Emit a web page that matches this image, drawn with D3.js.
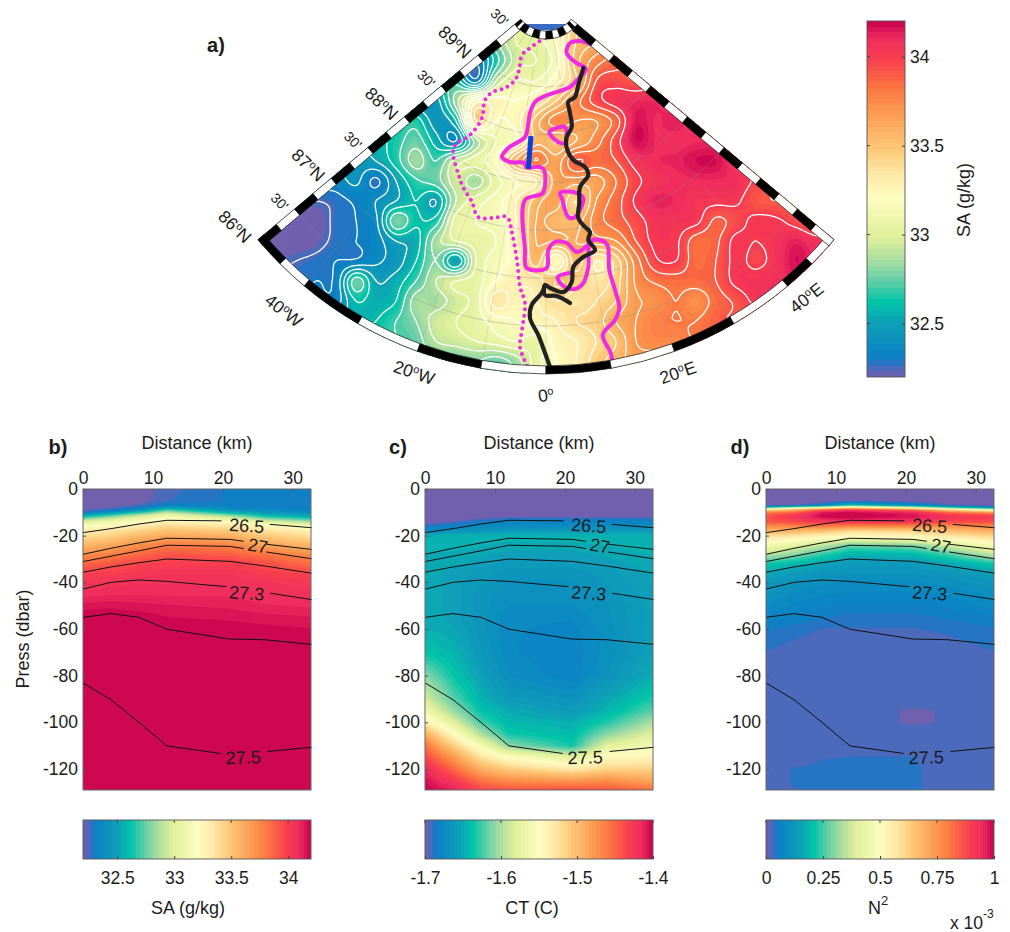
<!DOCTYPE html>
<html>
<head>
<meta charset="utf-8">
<script src="https://d3js.org/d3.v7.min.js"></script>
<style>
  html, body { margin: 0; padding: 0; background: #fff; }
  svg { display: block; }
  text { font-family: "Liberation Sans", Arial, sans-serif; fill: #1c1c1c; }
</style>
</head>
<body>
<div id="chart"></div>
<script>
// Shared colormap, position along the bar -> colour
const cmapStops = [0, 0.02, 0.035, 0.06, 0.15, 0.21, 0.277, 0.336, 0.394, 0.5, 0.57, 0.64, 0.745, 0.82, 0.89, 0.95, 1];
const cmapColors = ["#7060ae", "#5568b8", "#2a72c4", "#0a82c4", "#0fa0b8", "#00c4a8", "#6dd0a8", "#b0e0a0", "#e0f09a",
  "#fcfcc0", "#fee9a8", "#fdc878", "#fb9a50", "#fb7040", "#f9404f", "#ef2c5e", "#c8004f"];

// Map field: SA (g/kg), rows run down the map, columns left to right (plot units, 20 apart)
const mapColumns = d3.range(-290, 291, 20);
const mapRows = d3.range(30, 391, 20);
const mapSA = [
  [32.5,32.5,32.5,32.5,32.5,32.5,32.5,32.5,32.5,32.5,32.5,32.5,32.8,33.0,33.05,33.2,33.5,33.6,33.7,33.7,33.7,33.7,33.7,33.7,33.7,33.7,33.7,33.7,33.7,33.7],
  [32.5,32.5,32.5,32.5,32.5,32.5,32.5,32.5,32.5,32.5,32.5,32.5,32.8,33.0,33.05,33.2,33.5,33.6,33.7,33.7,33.7,33.7,33.7,33.7,33.7,33.7,33.7,33.7,33.7,33.7],
  [32.5,32.5,32.5,32.5,32.5,32.5,32.5,32.5,32.5,32.5,32.35,32.3,32.65,32.95,33.0,33.15,33.55,33.75,33.85,33.85,33.85,33.85,33.85,33.85,33.85,33.85,33.85,33.85,33.85,33.85],
  [32.6,32.6,32.6,32.6,32.6,32.6,32.6,32.6,32.65,32.65,32.65,32.35,32.9,33.1,33.1,33.25,33.5,33.9,33.95,33.9,33.95,33.95,33.95,33.95,33.95,33.95,33.95,33.95,33.95,33.95],
  [32.5,32.5,32.5,32.5,32.5,32.5,32.5,32.5,32.45,32.45,32.85,33.25,33.25,33.2,33.3,33.5,33.75,33.95,34.05,34.1,34.1,34.05,34.05,34.05,34.05,34.05,34.05,34.05,34.05,34.05],
  [32.6,32.6,32.6,32.6,32.6,32.6,32.6,32.6,32.65,32.45,32.6,33.4,33.2,33.25,33.55,33.75,33.7,33.7,33.85,34.15,34.1,34.13,34.05,34.05,34.05,34.05,34.05,34.05,34.05,34.05],
  [32.5,32.5,32.5,32.5,32.5,32.5,32.55,32.65,32.75,32.55,32.4,32.85,33.1,33.2,33.55,33.5,33.6,33.75,33.95,34.17,34.1,34.08,34.1,34.1,34.05,34.05,34.05,34.05,34.05,34.05],
  [32.45,32.45,32.45,32.45,32.45,32.45,32.5,32.65,32.85,32.7,32.95,33.05,33.2,33.6,33.8,33.65,33.9,33.85,33.9,34.05,34.1,34.12,34.17,34.17,34.05,34.0,34.0,34.0,34.0,34.0],
  [32.35,32.35,32.35,32.35,32.35,32.42,32.28,32.5,32.68,32.75,32.95,32.85,33.05,33.2,33.3,33.65,33.65,33.65,33.8,33.97,34.05,34.08,34.1,34.1,34.08,33.98,33.95,33.95,33.95,33.95],
  [32.25,32.25,32.25,32.25,32.27,32.32,32.4,32.5,32.6,32.5,32.9,33.05,33.15,33.3,33.55,33.65,33.4,33.7,33.85,34.02,34.12,34.1,34.04,34.03,34.02,33.92,33.9,33.9,33.9,33.9],
  [32.2,32.2,32.2,32.2,32.27,32.3,32.38,32.78,32.62,32.65,33.05,33.1,33.15,33.3,33.6,33.55,33.55,33.75,33.85,33.95,34.05,34.05,34.03,33.88,33.95,34.03,34.02,33.95,33.85,33.85],
  [32.2,32.2,32.2,32.22,32.27,32.3,32.35,32.5,32.55,32.85,33.0,33.05,33.1,33.3,33.6,33.6,33.6,33.65,33.7,33.9,34.03,34.02,33.85,33.88,34.03,34.0,34.05,34.12,34.05,34.05],
  [32.2,32.23,32.25,32.27,32.3,32.32,32.38,32.45,32.6,32.8,32.5,33.0,33.15,33.25,33.55,33.2,33.55,33.3,33.45,33.75,33.98,34.0,33.85,33.9,34.03,33.97,34.05,34.17,34.1,34.1],
  [32.28,32.28,32.28,32.3,32.33,32.75,32.5,32.55,32.7,32.9,33.0,33.05,33.2,33.3,33.35,33.5,33.45,33.35,33.45,33.72,33.82,33.85,33.85,33.9,34.03,34.05,34.08,34.1,34.1,34.1],
  [32.35,32.35,32.35,32.35,32.35,32.6,32.55,32.6,32.85,32.85,32.95,33.05,33.35,33.25,33.3,33.4,33.35,33.4,33.5,33.68,33.72,33.8,33.72,33.85,33.92,34.03,34.05,34.05,34.05,34.05],
  [32.55,32.55,32.55,32.55,32.55,32.55,32.6,32.7,32.8,32.95,33.0,33.05,33.15,33.2,33.25,33.3,33.4,33.45,33.6,33.7,33.78,33.8,33.8,33.88,33.9,33.9,33.9,33.9,33.9,33.9],
  [32.7,32.7,32.7,32.7,32.7,32.7,32.7,32.7,32.75,32.9,32.95,33.0,33.05,33.1,33.05,33.25,33.3,33.4,33.5,33.7,33.75,33.75,33.8,33.8,33.8,33.8,33.8,33.8,33.8,33.8],
  [32.75,32.75,32.75,32.75,32.75,32.75,32.75,32.75,32.75,32.75,32.75,32.8,32.75,32.85,33.05,33.2,33.3,33.45,33.55,33.65,33.65,33.65,33.65,33.65,33.65,33.65,33.65,33.65,33.65,33.65],
  [32.75,32.75,32.75,32.75,32.75,32.75,32.75,32.75,32.75,32.75,32.75,32.8,32.75,32.85,33.05,33.2,33.3,33.45,33.55,33.65,33.65,33.65,33.65,33.65,33.65,33.65,33.65,33.65,33.65,33.65]
];
const mapContourLevels = [32.25,32.3,32.4,32.5,32.6,32.7,32.8,32.9,33,33.1,33.2,33.3,33.4,33.5,33.6,33.7,33.8,33.9,34];

// Map lines in the same plot units as the field
const dottedLine = [[-1,47],[-6,50],[-16,57],[-24,64],[-27,79],[-31,89],[-41,97],[-53,101],[-61,109],[-64,127],[-76,144],[-91,154],[-93,162],[-88,182],[-83,196],[-74,211],[-68,226],[-53,227],[-39,226],[-34,242],[-29,269],[-26,296],[-21,312],[-24,339],[-26,356],[-18,377]];
const magentaLower = [[66.7,374],[64.7,362],[56.7,344],[69,329],[73.3,317],[69,299],[63.3,279],[61.3,254],[54,249],[44,251],[42.3,276],[37.3,292],[29,298],[17.3,295],[11.7,286],[24,282]];
const magentaUpper = [[44,252],[30.7,261],[20.7,252],[9,251],[2.3,259],[0.7,277],[-19.3,277],[-21,259],[-21,209],[-3.3,202],[-2,179],[-6,176],[-20,176],[-21,172],[-36,171],[-44,166],[-37.7,157],[-21,146],[-17.7,132],[-16,122],[-11,111],[-1,105],[24,96],[30,90],[40,78],[29,71],[20.7,62],[24,52],[34,50],[49,55]];
const magentaLoopA = [[3.3,141],[10.7,137],[19,136],[19,152],[12.3,151]];
const magentaLoopB = [[14,202],[27.3,201],[37.3,207],[29,226],[22.3,226],[15.7,207]];
const trackNorth = [[37.3,77],[32.3,94],[29,106],[22.3,111],[24,122],[25.7,136],[20.7,146],[20.7,157],[27.3,169],[39,176],[42.3,184],[34,196],[33.3,212],[32.3,227],[39,236],[44,241],[42.3,249],[49,259],[37.3,266],[27.3,276],[25.7,291],[17.3,301],[4,297],[-1,294],[-1,304],[10.7,305],[24,312]];
const trackSouth = [[-1,294],[-4.3,302],[-14.3,314],[-16,327],[-7.7,344],[-1,362],[4,376]];
const sectionBar = [[-15,145],[-17.7,178]];
const topBand = [[-24,33],[27,33],[27,39],[-24,39]];

// Map frame and labels
const lonBreaks = [-50,-45,-40,-30,-20,-10,0,10,20,30,40,45,50];
const latBreaks = [86,86.25,86.5,86.75,87,87.25,87.5,87.75,88,88.25,88.5,88.75,89,89.25,89.5];
const lonLabels = [-40,-20,0,20,40];
const latLabels = [86,87,88,89];
const halfLatLabels = [86.5,87.5,88.5,89.5];
const graticuleLons = [-40,-30,-20,-10,0,10,20,30,40];
const graticuleLats = [86.5,87,87.5,88,88.5,89];

// Section stations and pressure levels
const stationsKm = [0,4,8,12,21,26,32.7];
const pressLevels = [0,5,7,8,9,10,11,12,14,16,18,20,24,28,32,36,40,45,50,55,60,70,80,90,95,100,105,110,115,120,125,129];

const sectionSA = [
  [32.2,32.2,32.2,32.25,32.3,32.3,32.3],
  [32.2,32.2,32.21,32.26,32.3,32.3,32.3],
  [32.2,32.21,32.24,32.32,32.31,32.3,32.3],
  [32.21,32.23,32.3,32.48,32.35,32.32,32.31],
  [32.22,32.28,32.42,32.7,32.42,32.36,32.34],
  [32.26,32.42,32.62,32.88,32.55,32.44,32.38],
  [32.45,32.65,32.85,33.05,32.75,32.56,32.46],
  [32.65,32.82,33.0,33.15,32.92,32.68,32.56],
  [33.0,33.1,33.2,33.28,33.2,33.0,32.85],
  [33.2,33.25,33.32,33.42,33.36,33.25,33.15],
  [33.3,33.36,33.44,33.52,33.48,33.38,33.3],
  [33.38,33.44,33.54,33.62,33.58,33.47,33.38],
  [33.55,33.62,33.72,33.8,33.76,33.65,33.55],
  [33.72,33.78,33.86,33.92,33.9,33.82,33.72],
  [33.87,33.92,33.97,34.0,34.0,33.94,33.85],
  [33.98,34.0,34.02,34.04,34.04,34.0,33.96],
  [34.04,34.05,34.07,34.07,34.07,34.05,34.02],
  [34.09,34.1,34.1,34.1,34.1,34.08,34.06],
  [34.15,34.16,34.15,34.14,34.13,34.11,34.1],
  [34.2,34.2,34.19,34.17,34.16,34.15,34.14],
  [34.22,34.22,34.21,34.2,34.19,34.18,34.17],
  [34.25,34.25,34.25,34.25,34.25,34.25,34.25],
  [34.25,34.25,34.25,34.25,34.25,34.25,34.25],
  [34.25,34.25,34.25,34.25,34.25,34.25,34.25],
  [34.25,34.25,34.25,34.25,34.25,34.25,34.25],
  [34.25,34.25,34.25,34.25,34.25,34.25,34.25],
  [34.25,34.25,34.25,34.25,34.25,34.25,34.25],
  [34.25,34.25,34.25,34.25,34.25,34.25,34.25],
  [34.25,34.25,34.25,34.25,34.25,34.25,34.25],
  [34.25,34.25,34.25,34.25,34.25,34.25,34.25],
  [34.25,34.25,34.25,34.25,34.25,34.25,34.25],
  [34.25,34.25,34.25,34.25,34.25,34.25,34.25]
];

const sectionCT = [
  [-1.705,-1.705,-1.705,-1.705,-1.705,-1.705,-1.705],
  [-1.705,-1.705,-1.705,-1.705,-1.705,-1.705,-1.705],
  [-1.705,-1.705,-1.705,-1.705,-1.705,-1.705,-1.705],
  [-1.705,-1.705,-1.705,-1.705,-1.705,-1.705,-1.705],
  [-1.705,-1.705,-1.705,-1.705,-1.705,-1.705,-1.705],
  [-1.705,-1.705,-1.705,-1.705,-1.705,-1.705,-1.705],
  [-1.705,-1.705,-1.705,-1.705,-1.705,-1.705,-1.705],
  [-1.705,-1.705,-1.7,-1.695,-1.695,-1.695,-1.695],
  [-1.70,-1.695,-1.685,-1.68,-1.68,-1.68,-1.68],
  [-1.688,-1.68,-1.675,-1.672,-1.672,-1.672,-1.672],
  [-1.672,-1.665,-1.662,-1.66,-1.66,-1.66,-1.66],
  [-1.65,-1.645,-1.645,-1.645,-1.645,-1.645,-1.645],
  [-1.645,-1.645,-1.648,-1.65,-1.65,-1.648,-1.645],
  [-1.65,-1.65,-1.652,-1.655,-1.655,-1.652,-1.648],
  [-1.65,-1.652,-1.655,-1.66,-1.66,-1.655,-1.65],
  [-1.65,-1.655,-1.66,-1.665,-1.665,-1.66,-1.652],
  [-1.65,-1.655,-1.662,-1.668,-1.668,-1.662,-1.652],
  [-1.65,-1.655,-1.665,-1.67,-1.67,-1.665,-1.655],
  [-1.65,-1.655,-1.665,-1.672,-1.672,-1.668,-1.655],
  [-1.648,-1.655,-1.665,-1.675,-1.676,-1.668,-1.655],
  [-1.648,-1.652,-1.665,-1.676,-1.678,-1.67,-1.655],
  [-1.638,-1.645,-1.662,-1.676,-1.68,-1.67,-1.655],
  [-1.61,-1.635,-1.655,-1.672,-1.68,-1.667,-1.648],
  [-1.585,-1.62,-1.645,-1.66,-1.668,-1.652,-1.632],
  [-1.565,-1.605,-1.638,-1.65,-1.66,-1.645,-1.62],
  [-1.535,-1.58,-1.625,-1.643,-1.648,-1.632,-1.6],
  [-1.49,-1.545,-1.6,-1.635,-1.642,-1.61,-1.58],
  [-1.455,-1.51,-1.56,-1.61,-1.635,-1.58,-1.56],
  [-1.435,-1.475,-1.525,-1.55,-1.58,-1.545,-1.54],
  [-1.415,-1.45,-1.49,-1.51,-1.53,-1.515,-1.515],
  [-1.405,-1.425,-1.455,-1.47,-1.475,-1.47,-1.485],
  [-1.40,-1.41,-1.435,-1.44,-1.44,-1.44,-1.455]
];

// N2 in units of 10^-3
const sectionN2 = [
  [0,0,0,0,0,0,0],
  [0,0,0,0,0,0,0],
  [0,0.01,0.05,0.2,0.08,0.02,0],
  [0.22,0.35,0.45,0.6,0.4,0.25,0.1],
  [0.6,0.7,0.85,0.93,0.82,0.62,0.42],
  [0.78,0.83,0.97,0.99,0.95,0.82,0.72],
  [0.85,0.9,0.99,1,0.98,0.9,0.87],
  [0.87,0.92,0.99,1,0.98,0.93,0.9],
  [0.86,0.88,0.92,0.93,0.92,0.88,0.87],
  [0.76,0.78,0.8,0.78,0.78,0.76,0.78],
  [0.68,0.68,0.66,0.6,0.62,0.66,0.7],
  [0.6,0.58,0.55,0.52,0.54,0.58,0.62],
  [0.47,0.42,0.36,0.28,0.3,0.38,0.48],
  [0.35,0.3,0.24,0.18,0.19,0.25,0.36],
  [0.22,0.19,0.16,0.13,0.13,0.16,0.22],
  [0.16,0.14,0.12,0.11,0.11,0.12,0.15],
  [0.13,0.11,0.1,0.09,0.09,0.1,0.12],
  [0.11,0.09,0.08,0.075,0.075,0.08,0.1],
  [0.09,0.075,0.065,0.06,0.06,0.065,0.085],
  [0.07,0.06,0.05,0.04,0.04,0.05,0.06],
  [0.05,0.04,0.03,0.03,0.03,0.035,0.045],
  [0.031,0.02,0.018,0.018,0.018,0.02,0.031],
  [0.018,0.018,0.018,0.018,0.018,0.018,0.018],
  [0.018,0.018,0.018,0.018,0.018,0.018,0.018],
  [0.018,0.018,0.018,0.018,0.015,0.016,0.018],
  [0.018,0.018,0.018,0.018,0.015,0.016,0.018],
  [0.018,0.018,0.018,0.018,0.018,0.018,0.018],
  [0.018,0.018,0.018,0.018,0.018,0.018,0.018],
  [0.018,0.018,0.03,0.032,0.032,0.018,0.018],
  [0.018,0.033,0.036,0.036,0.036,0.018,0.018],
  [0.018,0.034,0.036,0.036,0.036,0.018,0.018],
  [0.018,0.03,0.036,0.036,0.036,0.018,0.018]
];

// Isopycnals (pressure in dbar at each station), the same in all three sections
const iso265 = [-18.7,-17,-15,-13.4,-13.7,-15,-16.6];
const iso27 = [-28,-25.4,-23.1,-21.1,-21.6,-23.6,-25.9];
const iso271 = [-31.1,-28.8,-26.5,-24.1,-24.6,-26.9,-29.9];
const iso272 = [-35.7,-33.4,-31.6,-30,-31,-33,-36.1];
const iso273 = [-42.9,-40,-39,-39.6,-42,-44.3,-47.4];
const iso274 = [-55,-53.4,-55,-60.1,-64.3,-64.6,-66.6];
const iso275 = [-83.1,-90.3,-100,-110.1,-113.9,-112.6,-110.7];
const isopycnals = [iso265, iso27, iso271, iso272, iso273, iso274, iso275];
const isoGaps = [[19.8,26.7],[23,26.2],[23,26.2],null,[20.5,26.8],null,[19.7,26.4]];
const isoLabels = ["26.5","27","27.3","27.5"];
const isoLabelKm = [23.4,25,23.4,22.9];
const isoLabelPress = [-15.7,-24.3,-44.6,-115];
const isoLabelTilt = [4,10,4,-2];

// Colorbar ticks
const saTicks = [32.5,33,33.5,34];
const ctTicks = [-1.7,-1.6,-1.5,-1.4];
const n2Ticks = [0,0.25,0.5,0.75,1];
const distTicks = [0,10,20,30];
const pressTicks = [0,-20,-40,-60,-80,-100,-120];

const cmap = d3.scaleLinear().domain(cmapStops).range(cmapColors).clamp(true);
const nLevels = 64;
const tickSize = 17.5, titleSize = 18;
// MATLAB style ticks use a plain hyphen
const plainTick = d => String(d);

const svg = d3.select("#chart").append("svg").attr("width", 1010).attr("height", 932);

// Fill a plotting area with stacked contour bands, like contourf
function drawBands(g, values, nx, ny, lo, hi, transform) {
  const levels = d3.range(1, nLevels).map(k => lo + (hi - lo) * k / nLevels);
  const contours = d3.contours().size([nx, ny]).thresholds(levels)(values);
  const path = d3.geoPath(transform);
  g.selectAll("path.band").data(contours).enter().append("path")
    .attr("class", "band")
    .attr("d", path)
    .attr("fill", d => cmap(((d.value - lo) / (hi - lo)) + 0.5 / nLevels));
}

// ---------- a) map ----------
const mapX = d3.scaleLinear().domain([-290, 290]).range([256, 836]);
const mapY = d3.scaleLinear().domain([30, 390]).range([21, 381]);
const apex = [0, 7];   // map point where the meridians meet
const latR = d3.scaleLinear().domain([86, 89.5]).range([376, 41]);
const rad = d => d * Math.PI / 180;
const polar = (lon, r) => [mapX(apex[0] + r * Math.sin(rad(lon))), mapY(apex[1] + r * Math.cos(rad(lon)))];
const cx = mapX(apex[0]), cy = mapY(apex[1]);

const mapGroup = svg.append("g");
const defs = svg.append("defs");
const wedgeArc = d3.arc().innerRadius(latR(89.5)).outerRadius(latR(86))
  .startAngle(Math.PI - rad(50)).endAngle(Math.PI + rad(50));
defs.append("clipPath").attr("id", "wedge").append("path")
  .attr("transform", `translate(${cx},${cy})`).attr("d", wedgeArc());

// Upsample the read-off field with Catmull-Rom so the contours come out round
const colIndex = d3.scaleLinear().domain(d3.extent(mapColumns)).range([0, mapColumns.length - 1]).clamp(true);
const rowIndex = d3.scaleLinear().domain(d3.extent(mapRows)).range([0, mapRows.length - 1]).clamp(true);
function cr(a, b, c, d, t) {
  return 0.5 * (2 * b + (c - a) * t + (2 * a - 5 * b + 4 * c - d) * t * t + (3 * b - a - 3 * c + d) * t * t * t);
}
function mapValue(X, Y) {
  const fx = colIndex(X), fy = rowIndex(Y);
  const i = Math.min(Math.floor(fx), mapColumns.length - 2), j = Math.min(Math.floor(fy), mapRows.length - 2);
  const at = (a, b) => mapSA[Math.max(0, Math.min(mapRows.length - 1, b))][Math.max(0, Math.min(mapColumns.length - 1, a))];
  const rows = [-1, 0, 1, 2].map(dj => cr(at(i - 1, j + dj), at(i, j + dj), at(i + 1, j + dj), at(i + 2, j + dj), fx - i));
  return cr(rows[0], rows[1], rows[2], rows[3], fy - j);
}
const gridPxX = d3.scaleLinear().domain([0, 300]).range([246, 846]);
const gridPxY = d3.scaleLinear().domain([0, 185]).range([15, 385]);
const mapValues = [];
for (let j = 0; j < 185; j++) {
  for (let i = 0; i < 300; i++) {
    mapValues.push(mapValue(mapX.invert(gridPxX(i + 0.5)), mapY.invert(gridPxY(j + 0.5))));
  }
}
const mapTransform = d3.geoTransform({
  point(x, y) { this.stream.point(gridPxX(x), gridPxY(y)); }
});

const topBandLine = d3.line().x(d => mapX(d[0])).y(d => mapY(d[1]));
mapGroup.append("path").attr("d", topBandLine(topBand) + "Z").attr("fill", "#3a6cc4");

const fieldGroup = mapGroup.append("g").attr("clip-path", "url(#wedge)");
fieldGroup.append("rect").attr("x", 246).attr("y", 15).attr("width", 600).attr("height", 370).attr("fill", cmap(0));
drawBands(fieldGroup, mapValues, 300, 185, 32.2, 34.2, mapTransform);

// Faint graticule
const gratGroup = fieldGroup.append("g").attr("fill", "none").attr("stroke", "#8a8a8a").attr("stroke-width", 0.5).attr("opacity", 0.45);
graticuleLons.forEach(lon => {
  const a = polar(lon, latR(89.5)), b = polar(lon, latR(86));
  gratGroup.append("line").attr("x1", a[0]).attr("y1", a[1]).attr("x2", b[0]).attr("y2", b[1]);
});
graticuleLats.forEach(lat => {
  gratGroup.append("path").attr("transform", `translate(${cx},${cy})`)
    .attr("d", d3.arc().innerRadius(latR(lat)).outerRadius(latR(lat)).startAngle(Math.PI - rad(50)).endAngle(Math.PI + rad(50))());
});

// White SA contours
const whiteContours = d3.contours().size([300, 185]).thresholds(mapContourLevels)(mapValues);
fieldGroup.selectAll("path.white").data(whiteContours).enter().append("path")
  .attr("class", "white")
  .attr("d", d3.geoPath(mapTransform))
  .attr("fill", "none").attr("stroke", "#fff").attr("stroke-width", 1.3);

// Magenta SA lines, ship track and section bar
const smooth = d3.line().x(d => mapX(d[0])).y(d => mapY(d[1])).curve(d3.curveCatmullRom);
const smoothClosed = d3.line().x(d => mapX(d[0])).y(d => mapY(d[1])).curve(d3.curveCatmullRomClosed);
const lineGroup = mapGroup.append("g").attr("clip-path", "url(#wedge)").attr("fill", "none").attr("stroke-linejoin", "round").attr("stroke-linecap", "round");
lineGroup.append("path").attr("d", smooth(dottedLine))
  .attr("stroke", "#ee2be0").attr("stroke-width", 4).attr("stroke-dasharray", "0 6.5");
[magentaLower, magentaUpper].forEach(l => {
  lineGroup.append("path").attr("d", smooth(l)).attr("stroke", "#ee2be0").attr("stroke-width", 4);
});
[magentaLoopA, magentaLoopB].forEach(l => {
  lineGroup.append("path").attr("d", smoothClosed(l)).attr("stroke", "#ee2be0").attr("stroke-width", 4);
});
[trackNorth, trackSouth].forEach(l => {
  lineGroup.append("path").attr("d", smooth(l)).attr("stroke", "#222").attr("stroke-width", 4.2);
});
lineGroup.append("path").attr("d", smooth(sectionBar)).attr("stroke", "#0b3fdc").attr("stroke-width", 5).attr("stroke-linecap", "butt");

// Fancy black and white frame
const frame = mapGroup.append("g").attr("stroke", "#111").attr("stroke-width", 0.7);
const bandWidth = 8;
function arcBand(rOuter, rInner) {
  d3.pairs(lonBreaks).forEach((p, i) => {
    frame.append("path").attr("transform", `translate(${cx},${cy})`)
      .attr("fill", i % 2 === 0 ? "#000" : "#fff")
      .attr("d", d3.arc().innerRadius(rInner).outerRadius(rOuter)
        .startAngle(Math.PI - rad(p[0])).endAngle(Math.PI - rad(p[1]))());
  });
}
arcBand(latR(86), latR(86) - bandWidth);
arcBand(latR(89.5), latR(89.5) - bandWidth);
[-50, 50].forEach(edge => {
  const side = edge < 0 ? -1 : 1;
  const nx = -side * Math.cos(rad(50)) * bandWidth, ny = Math.sin(rad(50)) * bandWidth;
  d3.pairs(latBreaks).forEach((p, i) => {
    const a = polar(edge, latR(p[0])), b = polar(edge, latR(p[1]));
    // west edge starts black at 86N, east edge starts white
    const isBlack = edge < 0 ? i % 2 === 0 : i % 2 === 1;
    frame.append("path").attr("fill", isBlack ? "#000" : "#fff")
      .attr("d", `M${a}L${b}L${b[0] + nx},${b[1] + ny}L${a[0] + nx},${a[1] + ny}Z`);
  });
});

// Degree labels with the raised small o
function degLabel(x, y, rot, size, num, suffix) {
  const t = svg.append("text").attr("transform", `translate(${x},${y}) rotate(${rot})`)
    .attr("text-anchor", "middle").attr("dy", "0.35em").attr("font-size", size);
  t.append("tspan").text(num);
  t.append("tspan").attr("font-size", size * 0.62).attr("dy", "-0.55em").text("o");
  t.append("tspan").attr("dy", "0.34em").text(suffix);
}
lonLabels.forEach(lon => {
  const at = lon === -40 ? -40 : lon === 40 ? 41 : lon * 0.97;
  const p = polar(at, latR(86) + (lon === -40 ? 32 : 21));
  degLabel(p[0], p[1], lon === 0 ? -8 : -lon * 0.95, tickSize, Math.abs(lon), lon === 0 ? "" : (lon < 0 ? "W" : "E"));
});
latLabels.forEach(lat => {
  const p = polar(-50, latR(lat));
  degLabel(p[0] - 23, p[1] - 13, 44, tickSize, lat, "N");
});
halfLatLabels.forEach(lat => {
  const p = polar(-50, latR(lat));
  svg.append("text").attr("transform", `translate(${p[0] - 15},${p[1] - 7}) rotate(44)`)
    .attr("text-anchor", "middle").attr("dy", "0.35em").attr("font-size", 14).text("30'");
});

function panelLabel(x, y, s) {
  svg.append("text").attr("x", x).attr("y", y).attr("text-anchor", "middle").attr("dy", "0.35em")
    .attr("font-size", 20).attr("font-weight", "bold").text(s);
}
panelLabel(216, 45, "a)");
panelLabel(58, 447, "b)");
panelLabel(398, 447, "c)");
panelLabel(740, 447, "d)");

// Vertical colorbar of the map
const barV = d3.scaleLinear().domain([32.2, 34.2]).range([377, 21]);
const vGroup = svg.append("g");
vGroup.selectAll("rect").data(d3.range(nLevels)).enter().append("rect")
  .attr("x", 867).attr("width", 38)
  .attr("y", k => barV(32.2 + 2 * (k + 1) / nLevels))
  .attr("height", k => barV(32.2 + 2 * k / nLevels) - barV(32.2 + 2 * (k + 1) / nLevels))
  .attr("shape-rendering", "crispEdges")
  .attr("fill", k => cmap((k + 0.5) / nLevels));
vGroup.append("rect").attr("x", 867).attr("y", 21).attr("width", 38).attr("height", 356)
  .attr("fill", "none").attr("stroke", "#555").attr("stroke-width", 0.9);
const vAxis = vGroup.append("g").attr("transform", "translate(905,0)")
  .call(d3.axisRight(barV).tickValues(saTicks).tickSize(-3).tickPadding(5).tickFormat(plainTick));
vAxis.select(".domain").remove();
vAxis.selectAll("text").attr("font-size", tickSize).attr("font-family", null);
vAxis.selectAll("line").attr("stroke", "#444");
vGroup.selectAll("line.left").data(saTicks).enter().append("line").attr("class", "left")
  .attr("x1", 867).attr("x2", 870).attr("y1", d => barV(d)).attr("y2", d => barV(d)).attr("stroke", "#444");
svg.append("text").attr("transform", "translate(964,200) rotate(-90)").attr("text-anchor", "middle")
  .attr("dy", "0.35em").attr("font-size", titleSize).text("SA (g/kg)");

// ---------- b, c, d) sections ----------
const panelTop = 489, panelBottom = 790, panelWidth = 228;

function drawSection(x0, field, lo, hi, ticks, tickFmt, yLabel) {
  const x = d3.scaleLinear().domain([0, 32.6]).range([x0, x0 + panelWidth]);
  const y = d3.scaleLinear().domain([0, -129]).range([panelTop, panelBottom]);
  const g = svg.append("g");

  // Linear interpolation between stations and levels
  const kmIndex = d3.scaleLinear().domain(stationsKm).range(stationsKm.map((d, i) => i)).clamp(true);
  const prIndex = d3.scaleLinear().domain(pressLevels).range(pressLevels.map((d, i) => i)).clamp(true);
  const nx = panelWidth, ny = panelBottom - panelTop, values = [];
  for (let j = 0; j < ny; j++) {
    const fy = prIndex(-y.invert(panelTop + j + 0.5));
    const r = Math.min(Math.floor(fy), pressLevels.length - 2);
    for (let i = 0; i < nx; i++) {
      const fx = kmIndex(x.invert(x0 + i + 0.5));
      const c = Math.min(Math.floor(fx), stationsKm.length - 2);
      const top = d3.interpolateNumber(field[r][c], field[r][c + 1])(fx - c);
      const bot = d3.interpolateNumber(field[r + 1][c], field[r + 1][c + 1])(fx - c);
      values.push(d3.interpolateNumber(top, bot)(fy - r));
    }
  }
  g.append("rect").attr("x", x0).attr("y", panelTop).attr("width", panelWidth).attr("height", ny).attr("fill", cmap(0));
  const shift = d3.geoTransform({ point(px, py) { this.stream.point(x0 + px, panelTop + py); } });
  drawBands(g, values, nx, ny, lo, hi, shift);

  // Isopycnals, broken where the labels sit
  const line = d3.line().x(d => x(d[0])).y(d => y(d[1]));
  isopycnals.forEach((iso, n) => {
    const gap = isoGaps[n];
    const pts = stationsKm.map((km, i) => [km, iso[i]]);
    const pressAt = d3.scaleLinear().domain(stationsKm).range(iso);
    const parts = gap
      ? [pts.filter(p => p[0] < gap[0]).concat([[gap[0], pressAt(gap[0])]]),
         [[gap[1], pressAt(gap[1])]].concat(pts.filter(p => p[0] > gap[1]))]
      : [pts];
    parts.forEach(part => {
      g.append("path").attr("d", line(part)).attr("fill", "none").attr("stroke", "#111").attr("stroke-width", 1);
    });
  });
  isoLabels.forEach((s, i) => {
    g.append("text").attr("transform", `translate(${x(isoLabelKm[i])},${y(isoLabelPress[i])}) rotate(${isoLabelTilt[i]})`)
      .attr("text-anchor", "middle").attr("dy", "0.35em").attr("font-size", 18).attr("fill", "#111").text(s);
  });

  // Frame and axes
  g.append("rect").attr("x", x0).attr("y", panelTop).attr("width", panelWidth).attr("height", ny)
    .attr("fill", "none").attr("stroke", "#666").attr("stroke-width", 1);
  const top = g.append("g").attr("transform", `translate(0,${panelTop})`)
    .call(d3.axisTop(x).tickValues(distTicks).tickSize(-3).tickPadding(5));
  const left = g.append("g").attr("transform", `translate(${x0},0)`)
    .call(d3.axisLeft(y).tickValues(pressTicks).tickSize(-3).tickPadding(5).tickFormat(plainTick));
  [top, left].forEach(a => {
    a.select(".domain").remove();
    a.selectAll("text").attr("font-size", tickSize).attr("font-family", null);
    a.selectAll("line").attr("stroke", "#555");
  });
  g.append("text").attr("x", x0 + panelWidth / 2).attr("y", 443).attr("text-anchor", "middle")
    .attr("dy", "0.35em").attr("font-size", titleSize).text("Distance (km)");
  if (yLabel) {
    g.append("text").attr("transform", `translate(23,639) rotate(-90)`).attr("text-anchor", "middle")
      .attr("dy", "0.35em").attr("font-size", titleSize).text(yLabel);
  }

  // Colorbar below the panel
  const barX = d3.scaleLinear().domain([lo, hi]).range([x0, x0 + panelWidth]);
  const bar = svg.append("g");
  bar.selectAll("rect").data(d3.range(nLevels)).enter().append("rect")
    .attr("x", k => barX(lo + (hi - lo) * k / nLevels)).attr("y", 820)
    .attr("width", panelWidth / nLevels).attr("height", 39)
    .attr("shape-rendering", "crispEdges")
    .attr("fill", k => cmap((k + 0.5) / nLevels));
  bar.append("rect").attr("x", x0).attr("y", 820).attr("width", panelWidth).attr("height", 39)
    .attr("fill", "none").attr("stroke", "#555").attr("stroke-width", 0.9);
  const axis = bar.append("g").attr("transform", "translate(0,859)")
    .call(d3.axisBottom(barX).tickValues(ticks).tickSize(-3).tickPadding(13).tickFormat(tickFmt));
  axis.select(".domain").remove();
  axis.selectAll("text").attr("font-size", tickSize).attr("font-family", null);
  axis.selectAll("line").attr("stroke", "#444");
  bar.selectAll("line.up").data(ticks).enter().append("line").attr("class", "up")
    .attr("x1", d => barX(d)).attr("x2", d => barX(d)).attr("y1", 820).attr("y2", 823).attr("stroke", "#444");
}

drawSection(83, sectionSA, 32.2, 34.2, saTicks, plainTick, "Press (dbar)");
drawSection(425, sectionCT, -1.7, -1.4, ctTicks, plainTick, null);
drawSection(766, sectionN2, 0, 1, n2Ticks, plainTick, null);

svg.append("text").attr("x", 188).attr("y", 908).attr("text-anchor", "middle").attr("dy", "0.35em").attr("font-size", titleSize).text("SA (g/kg)");
svg.append("text").attr("x", 532).attr("y", 908).attr("text-anchor", "middle").attr("dy", "0.35em").attr("font-size", titleSize).text("CT (C)");
const n2 = svg.append("text").attr("x", 878).attr("y", 908).attr("text-anchor", "middle").attr("dy", "0.35em").attr("font-size", titleSize);
n2.append("tspan").text("N");
n2.append("tspan").attr("font-size", 13).attr("dy", "-0.7em").text("2");
const ex = svg.append("text").attr("x", 950).attr("y", 929).attr("font-size", 17.5);
ex.append("tspan").text("x 10");
ex.append("tspan").attr("font-size", 12).attr("dy", "-0.9em").text("-3");
</script>
</body>
</html>
